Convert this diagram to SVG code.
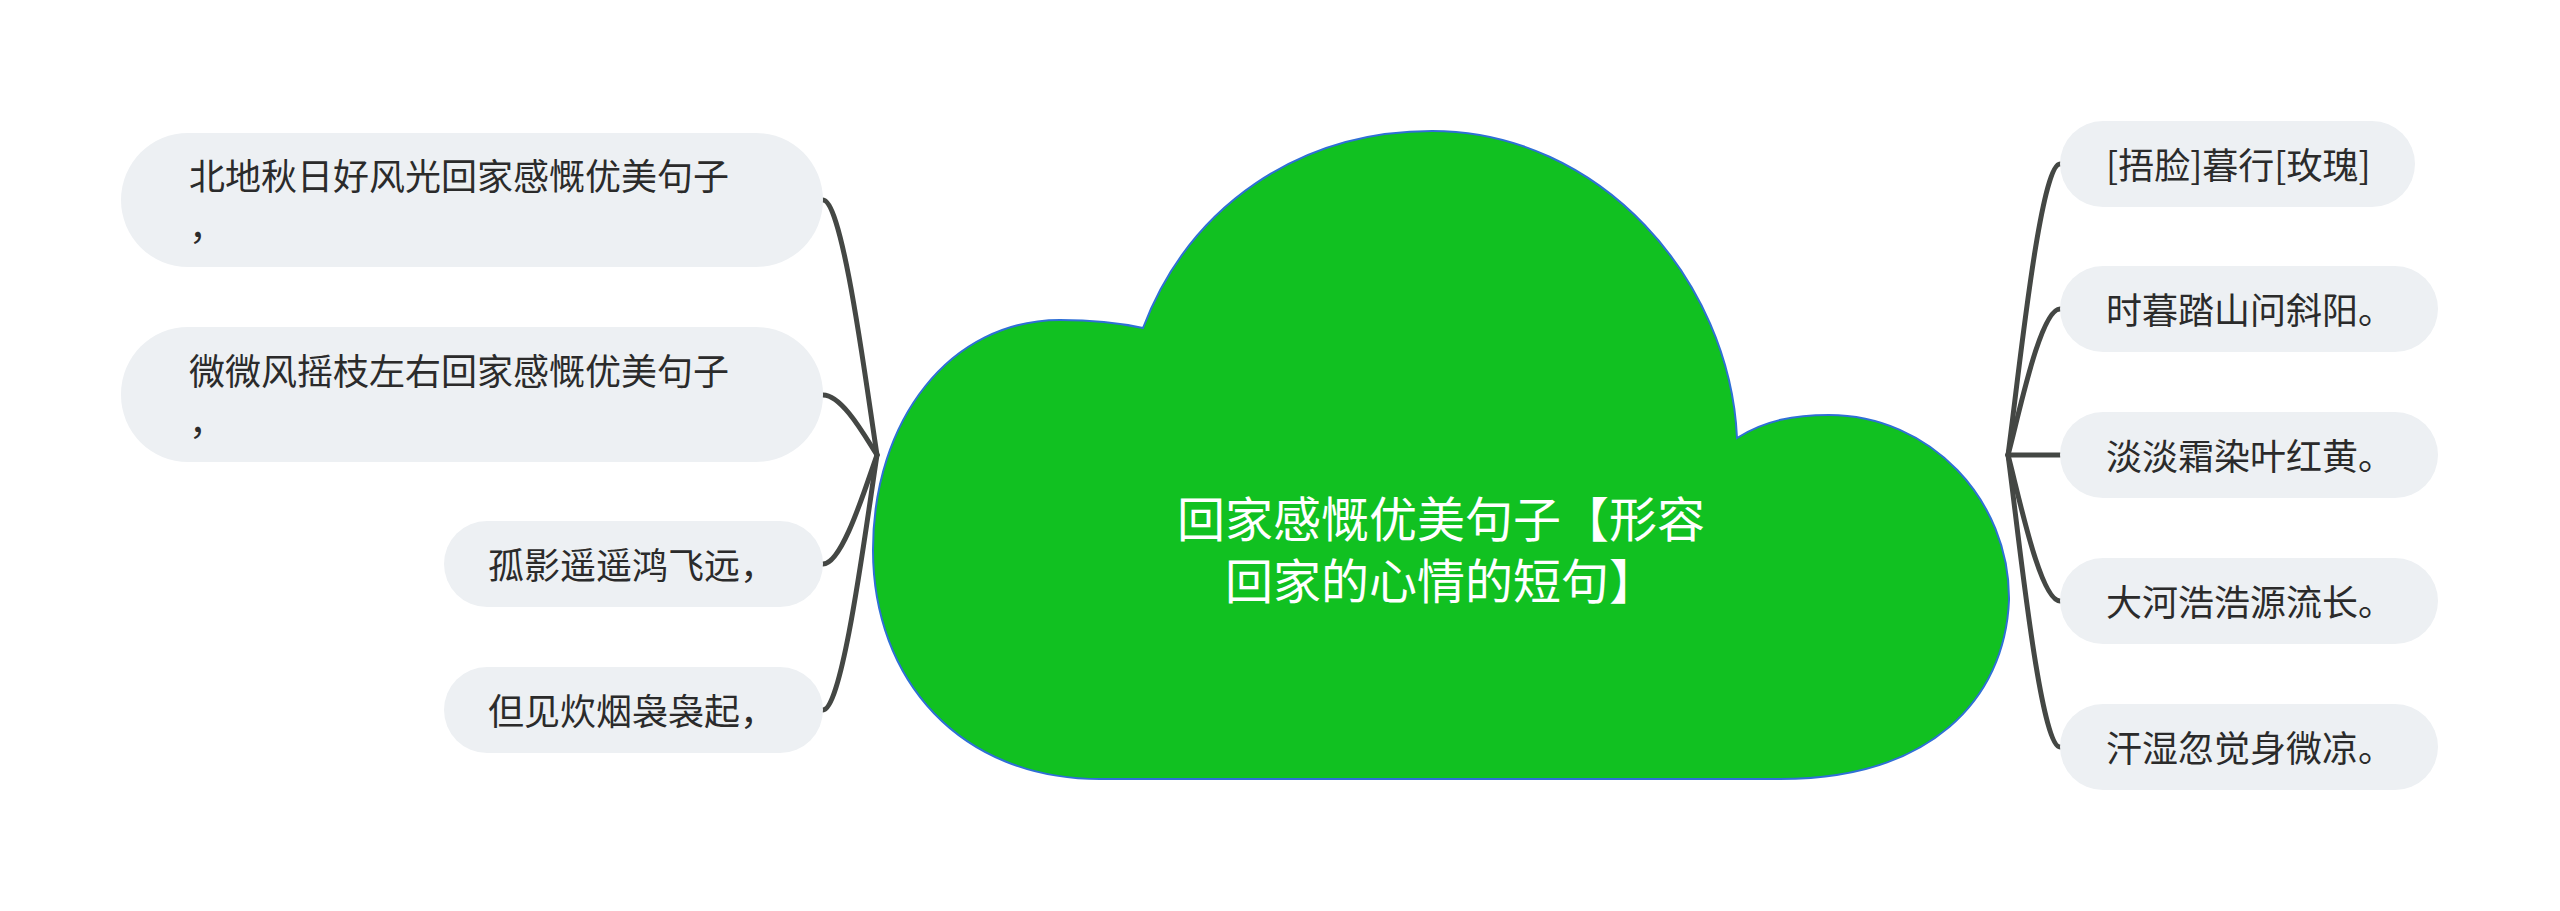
<svg xmlns="http://www.w3.org/2000/svg" width="2560" height="911" viewBox="0 0 2560 911">
<style>
.box{fill:#edf0f3;}
.t{font-family:"Noto Sans CJK SC","Noto Sans",sans-serif;font-size:36px;fill:#2b2b2b;}
.main{font-family:"Noto Sans CJK SC","Noto Sans",sans-serif;font-size:48px;fill:#ffffff;text-anchor:middle;}
.c{fill:none;stroke:#444744;stroke-width:5;stroke-linecap:round;}
</style>
<rect width="2560" height="911" fill="#ffffff"/>
<g id="connectors">
<path class="c" d="M823 200 C843 200 867 391 877 455"/>
<path class="c" d="M823 395 C843 395 867 440 877 455"/>
<path class="c" d="M823 564 C843 564 867 482 877 455"/>
<path class="c" d="M823 710 C843 710 867 519 877 455"/>
<path class="c" d="M2060 164 C2040 164 2018 382 2008 455"/>
<path class="c" d="M2060 309 C2040 309 2018 419 2008 455"/>
<path class="c" d="M2060 455 L2008 455"/>
<path class="c" d="M2060 601 C2040 601 2018 492 2008 455"/>
<path class="c" d="M2060 747 C2040 747 2018 528 2008 455"/>
</g>
<g id="center">
<path d="M1143 328 C1190 205 1300 131 1432 131 C1600 131 1730 280 1737 438 C1765 420 1795 415 1829 415 C1930 415 2010 500 2009 600 C2005 700 1930 779 1780 779 L1100 779 C960 779 873 680 873 550 C873 420 950 320 1060 320 C1090 320 1120 323 1143 328 Z" fill="#11c121" stroke="#2f6fd6" stroke-width="2"/>
<text class="main" x="1441" y="537">回家感慨优美句子【形容</text>
<text class="main" x="1441" y="599">回家的心情的短句】</text>
</g>
<g id="left1">
<rect class="box" x="121" y="133" width="702" height="134" rx="67"/>
<text class="t" x="189" y="190">北地秋日好风光回家感慨优美句子</text>
<text class="t" x="189" y="240">，</text>
</g>
<g id="left2">
<rect class="box" x="121" y="327" width="702" height="135" rx="67"/>
<text class="t" x="189" y="385">微微风摇枝左右回家感慨优美句子</text>
<text class="t" x="189" y="435">，</text>
</g>
<g id="left3">
<rect class="box" x="444" y="521" width="379" height="86" rx="43"/>
<text class="t" x="488" y="579">孤影遥遥鸿飞远，</text>
</g>
<g id="left4">
<rect class="box" x="444" y="667" width="379" height="86" rx="43"/>
<text class="t" x="488" y="725">但见炊烟袅袅起，</text>
</g>
<g id="right1">
<rect class="box" x="2060" y="121" width="355" height="86" rx="43"/>
<text class="t" x="2106" y="179">[捂脸]暮行[玫瑰]</text>
</g>
<g id="right2">
<rect class="box" x="2060" y="266" width="378" height="86" rx="43"/>
<text class="t" x="2106" y="324">时暮踏山问斜阳。</text>
</g>
<g id="right3">
<rect class="box" x="2060" y="412" width="378" height="86" rx="43"/>
<text class="t" x="2106" y="470">淡淡霜染叶红黄。</text>
</g>
<g id="right4">
<rect class="box" x="2060" y="558" width="378" height="86" rx="43"/>
<text class="t" x="2106" y="616">大河浩浩源流长。</text>
</g>
<g id="right5">
<rect class="box" x="2060" y="704" width="378" height="86" rx="43"/>
<text class="t" x="2106" y="762">汗湿忽觉身微凉。</text>
</g>
</svg>
